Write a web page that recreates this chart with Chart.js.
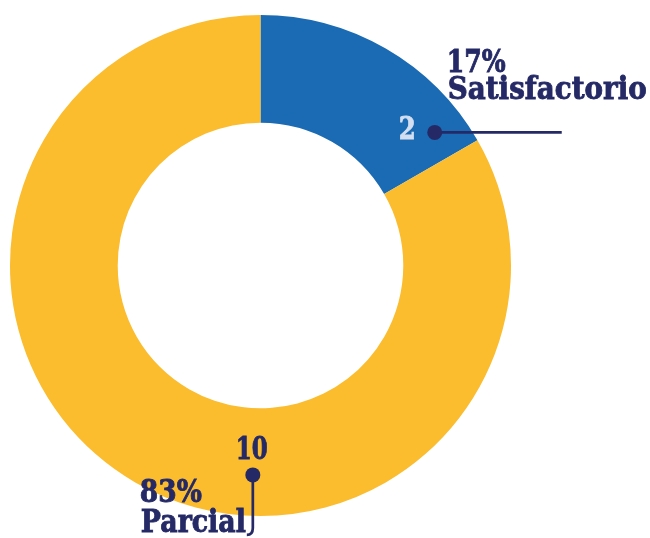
<!DOCTYPE html>
<html>
<head>
<meta charset="utf-8">
<script src="https://cdn.jsdelivr.net/npm/chart.js@4.4.0/dist/chart.umd.min.js"></script>
<style>
  html, body { margin: 0; padding: 0; background: #ffffff; }
  #wrap { width: 650px; height: 538px; position: relative; }
</style>
</head>
<body>
<div id="wrap"><canvas id="dona"></canvas></div>
<script>
// Datos del gráfico
const categorias = ['Satisfactorio', 'Parcial'];
const valores = [2, 10];
const porcentajes = ['17%', '83%'];
const colores = ['#1A6BB3', '#FBBC2E'];

const navy = '#252A66';
const fuente = 'bold 31px "DejaVu Serif", serif';

// posición de cada marcador dentro de su arco (fracción del ángulo, fracción del grosor)
const marcadores = [
	{ t: 0.877, r: 0.71 },
	{ t: 0.407, r: 0.62 }
];

// texto condensado horizontalmente para que ocupe el ancho deseado
function textoAncho(ctx, txt, x, y, ancho, color) {
	ctx.save();
	ctx.font = fuente;
	ctx.fillStyle = color;
	ctx.strokeStyle = color;
	ctx.lineWidth = 0.9;
	ctx.textBaseline = 'alphabetic';
	ctx.textAlign = 'left';
	const w = ctx.measureText(txt).width;
	const s = ancho / w;
	ctx.translate(x, y);
	ctx.scale(s, 1);
	ctx.fillText(txt, 0, 0);
	ctx.strokeText(txt, 0, 0);
	ctx.restore();
}

function punto(ctx, x, y) {
	ctx.beginPath();
	ctx.arc(x, y, 7.5, 0, Math.PI * 2);
	ctx.fillStyle = navy;
	ctx.fill();
}

const etiquetas = {
	id: 'etiquetas',
	afterDraw(chart) {
		const ctx = chart.ctx;
		const meta = chart.getDatasetMeta(0);
		const pos = meta.data.map((arc, i) => {
			const p = arc.getProps(['x', 'y', 'startAngle', 'endAngle', 'innerRadius', 'outerRadius'], true);
			const m = marcadores[i];
			const a = p.startAngle + m.t * (p.endAngle - p.startAngle);
			const r = p.innerRadius + m.r * (p.outerRadius - p.innerRadius);
			return { x: p.x + Math.cos(a) * r, y: p.y + Math.sin(a) * r };
		});

		ctx.save();
		// Satisfactorio
		let d = pos[0];
		ctx.strokeStyle = navy;
		ctx.lineWidth = 2.7;
		ctx.beginPath();
		ctx.moveTo(d.x, d.y);
		ctx.lineTo(d.x + 127, d.y);
		ctx.stroke();
		punto(ctx, d.x, d.y);
		textoAncho(ctx, String(valores[0]), d.x - 36, d.y + 7, 17, '#D3DEF0');
		textoAncho(ctx, porcentajes[0], d.x + 12, d.y - 60, 59, navy);
		textoAncho(ctx, categorias[0], d.x + 13, d.y - 33, 199, navy);

		// Parcial
		d = pos[1];
		ctx.strokeStyle = navy;
		ctx.lineWidth = 2.7;
		ctx.beginPath();
		ctx.moveTo(d.x, d.y);
		ctx.lineTo(d.x, d.y + 53);
		ctx.quadraticCurveTo(d.x, d.y + 60, d.x - 6, d.y + 60);
		ctx.stroke();
		punto(ctx, d.x, d.y);
		textoAncho(ctx, String(valores[1]), d.x - 17, d.y - 16, 32, navy);
		textoAncho(ctx, porcentajes[1], d.x - 113, d.y + 27, 62, navy);
		textoAncho(ctx, categorias[1], d.x - 112, d.y + 57, 105, navy);
		ctx.restore();
	}
};

document.addEventListener('DOMContentLoaded', function() {
	const ctx = document.getElementById('dona').getContext('2d');
	new Chart(ctx, {
		type: 'doughnut',
		data: {
			labels: categorias,
			datasets: [{
				data: valores,
				backgroundColor: colores,
				borderColor: '#ffffff',
				borderWidth: 0,
				hoverOffset: 0
			}]
		},
		options: {
			responsive: true,
			maintainAspectRatio: false,
			animation: false,
			cutout: '57%',
			layout: {
				padding: { left: 10, top: 15, right: 139, bottom: 22 }
			},
			plugins: {
				legend: { display: false },
				tooltip: { enabled: false }
			}
		},
		plugins: [etiquetas]
	});
});
</script>
</body>
</html>
